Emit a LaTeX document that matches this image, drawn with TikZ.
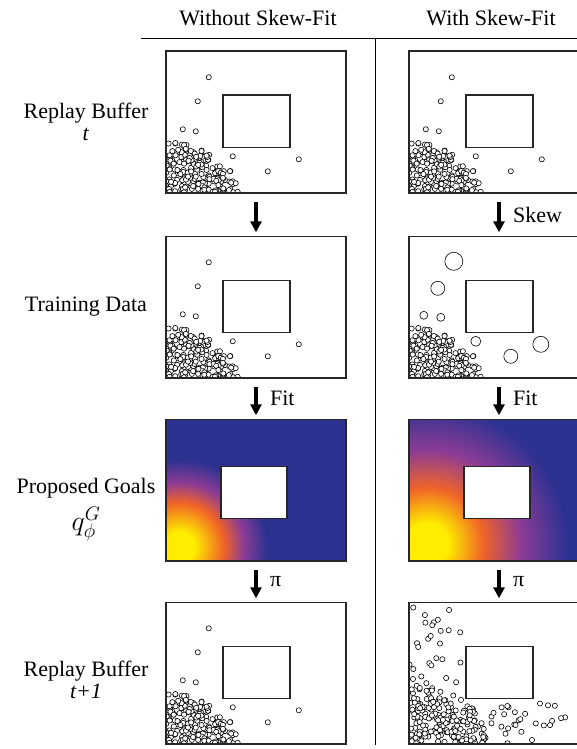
\RequirePackage{fix-cm}
\documentclass[tikz,border=0pt]{standalone}
\usepackage{fontspec}
\setmainfont{Liberation Serif}
\usetikzlibrary{positioning, arrows.meta, calc}

\definecolor{goalyellow}{RGB}{255,237,0}
\definecolor{goalorange}{RGB}{240,100,40}
\definecolor{goalpurple}{RGB}{140,60,150}
\definecolor{goalblue}{RGB}{45,50,145}

\tikzset{
  panel/.style={rectangle, minimum width=180pt, minimum height=141pt, inner sep=0pt},
  frame/.style={draw=black!85, line width=1.6pt},
  wall/.style={draw=black!85, line width=1.6pt, fill=white},
  dot/.style={draw=black, fill=white, line width=0.6pt},
  flow/.style={-{Triangle[width=11pt,length=11pt]}, line width=3.6pt, shorten <=9pt, shorten >=4pt},
  rowlabel/.style={align=center, font=\fontsize{22}{22}\selectfont},
}

% pile of samples in the lower left corner: seed, count, x radius, y radius
\newcommand{\drawpile}[4]{%
  \pgfmathsetseed{#1}
  \foreach \k in {1,...,#2}{
    \pgfmathsetmacro{\ang}{90*rnd}
    \pgfmathsetmacro{\rad}{sqrt(rnd)}
    \draw[dot] ({#3*\rad*cos(\ang)},{141-#4*\rad*sin(\ang)}) circle (2.6);
  }
}
% one colour band of the goal density: cx, cy, outer colour, inner colour, outer r, inner r
\newcommand{\ringfade}[6]{%
  \foreach \s in {0,...,24}{
    \pgfmathsetmacro{\rr}{#5-(#5-#6)*\s/24}
    \pgfmathtruncatemacro{\mixp}{100*\s/24}
    \fill[#4!\mixp!#3] (#1,#2) circle (\rr);
  }
}
\newcommand{\drawgoals}[6]{%
  \fill[goalblue] (0,0) rectangle (180,141);
  \ringfade{#1}{#2}{goalblue}{goalpurple}{#6}{#5}
  \ringfade{#1}{#2}{goalpurple}{goalorange}{#5}{#4}
  \ringfade{#1}{#2}{goalorange}{goalyellow}{#4}{#3}
  \fill[goalyellow] (#1,#2) circle (#3);
}

\begin{document}
\begin{tikzpicture}[x=1pt, y=-1pt, font=\fontsize{22}{25}\selectfont]
  \clip (0,0) rectangle (577,749);

  % Headers
  \node (hdrleft) at (258,18) {Without Skew-Fit};
  \node (hdrright) at (491,18) {With Skew-Fit};
  \coordinate (ruleL) at (141,38);
  \coordinate (ruleR) at (577,38);
  \coordinate (sepT) at (375,38);
  \coordinate (sepB) at (375,745);
  \draw[line width=0.8pt] (ruleL) -- (ruleR);
  \draw[line width=0.8pt] (sepT) -- (sepB);

  % Panels
  \foreach \n/\y in {buf/122, train/307, goal/490, next/673}{
    \node[panel] (left\n) at (256,\y) {};
    \node[panel] (right\n) at (499,\y) {};
  }

  % Row labels
  \node[rowlabel] (lblbuf) at (86,122) {Replay Buffer\\\textit{t}};
  \node[rowlabel] (lbltrain) at (86,307) {Training Data};
  \node[rowlabel] (lblgoal) at (86,488) {Proposed Goals};
  \node[font=\fontsize{28}{28}\selectfont, inner sep=0pt, below=5pt of lblgoal] (lblq) {$q_{\phi}^{G}$};
  \node[rowlabel] (lblnext) at (86,680) {Replay Buffer\\\textit{t+1}};

  % Buffers without skew
  \foreach \n in {leftbuf, rightbuf, lefttrain, leftnext}{
    \begin{scope}[shift={(\n.north west)}]
      \clip (0,0) rectangle (180,141);
      \drawpile{11}{200}{72}{50}
      \foreach \x/\y in {43/26, 32/50, 17/78, 30/80, 67/105, 133/108, 102/120}
        \draw[dot] (\x,\y) circle (2.6);
      \draw[wall] (57,44) rectangle (124,96);
    \end{scope}
  }

  % Skewed training data
  \begin{scope}[shift={(righttrain.north west)}]
    \clip (0,0) rectangle (180,141);
    \drawpile{11}{200}{72}{50}
    \foreach \x/\y/\r in {45/25/9, 29/52/7, 15/79/4, 32/81/4, 67/105/5, 132/108/8, 102/120/7}
      \draw[dot] (\x,\y) circle (\r);
    \draw[wall] (57,44) rectangle (124,96);
  \end{scope}

  % Goal densities
  \begin{scope}[shift={(leftgoal.north west)}]
    \clip (0,0) rectangle (180,141);
    \drawgoals{14}{128}{16}{45}{65}{88}
    \draw[wall] (55,47) rectangle (121,99);
  \end{scope}
  \begin{scope}[shift={(rightgoal.north west)}]
    \clip (0,0) rectangle (180,141);
    \drawgoals{19}{125}{22}{57}{95}{140}
    \draw[wall] (55,47) rectangle (121,99);
  \end{scope}

  % Buffer after skew-fit
  \begin{scope}[shift={(rightnext.north west)}]
    \clip (0,0) rectangle (180,141);
    \drawpile{23}{130}{80}{58}
    \pgfmathsetseed{5}
    \foreach \k in {1,...,55}{
      \pgfmathsetmacro{\px}{52*rnd}
      \pgfmathsetmacro{\py}{136*rnd^1.4}
      \draw[dot] (\px,141-\py) circle (2.6);
    }
    \foreach \k in {1,...,60}{
      \pgfmathsetmacro{\px}{163*rnd^1.3}
      \pgfmathsetmacro{\py}{42*rnd}
      \draw[dot] (\px,141-\py) circle (2.6);
    }
    \draw[wall] (57,44) rectangle (124,96);
  \end{scope}

  % Frames
  \foreach \n in {buf, train, goal, next}{
    \draw[frame] (left\n.north west) rectangle (left\n.south east);
    \draw[frame] (right\n.north west) rectangle (right\n.south east);
  }

  % Arrows
  \draw[flow] (leftbuf) -- (lefttrain);
  \draw[flow] (rightbuf) -- node[right=9pt] {Skew} (righttrain);
  \draw[flow] (lefttrain) -- node[right=9pt] {Fit} (leftgoal);
  \draw[flow] (righttrain) -- node[right=9pt] {Fit} (rightgoal);
  \draw[flow] (leftgoal) -- node[right=9pt] {π} (leftnext);
  \draw[flow] (rightgoal) -- node[right=9pt] {π} (rightnext);
\end{tikzpicture}
\end{document}
